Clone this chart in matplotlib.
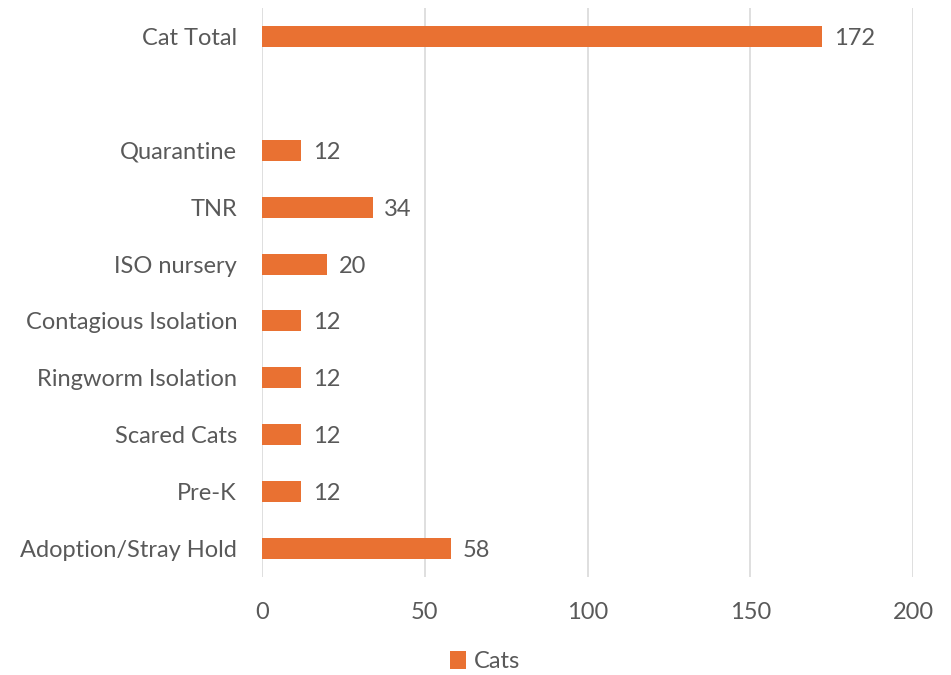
import matplotlib
matplotlib.use("Agg")
import matplotlib.pyplot as plt

# dados (de cima para baixo)
categorias = ["Cat Total", "", "Quarantine", "TNR", "ISO nursery",
              "Contagious Isolation", "Ringworm Isolation", "Scared Cats",
              "Pre-K", "Adoption/Stray Hold"]
valores = [172, None, 12, 34, 20, 12, 12, 12, 12, 58]
ticks_x = [0, 50, 100, 150, 200]

cor = "#E97132"
cinza = "#595959"
fs = 17
plt.rcParams["font.family"] = ["Lato", "DejaVu Sans"]

fig = plt.figure(figsize=(9.51, 6.75), dpi=100)
ax = fig.add_axes([262 / 951, 1 - 577 / 675, (913 - 262) / 951, (577 - 8) / 675])

n = len(categorias)
ys = list(range(n))
for y, v in zip(ys, valores):
    if v is None:
        continue
    ax.barh(y, v, height=0.37, color=cor, zorder=3,
            label="Cats" if y == 0 else None)
    ax.text(v + 3.6, y, str(v), va="center_baseline", ha="left", fontsize=fs, color=cinza)

ax.set_ylim(n - 0.5, -0.5)
ax.set_yticks(ys)
ax.set_yticklabels(categorias, fontsize=fs, color=cinza)
ax.set_xlim(0, 200)
ax.set_xticks(ticks_x)
ax.set_xticklabels([str(t) for t in ticks_x], fontsize=fs, color=cinza)
ax.tick_params(axis="both", length=0)
ax.tick_params(axis="x", pad=18)
ax.tick_params(axis="y", pad=18)
for s in ax.spines.values():
    s.set_visible(False)
ax.grid(axis="x", color="#D9D9D9", linewidth=1.2, zorder=0)

# legenda centrada em x~485 px
cx = (485 - 262) / (913 - 262)
ax.legend(loc="center", bbox_to_anchor=(cx, -0.148),
          frameon=False, fontsize=fs, handlelength=0.68, handleheight=0.8,
          handletextpad=0.3, labelcolor=cinza)

plt.savefig("out.png", dpi=100)
